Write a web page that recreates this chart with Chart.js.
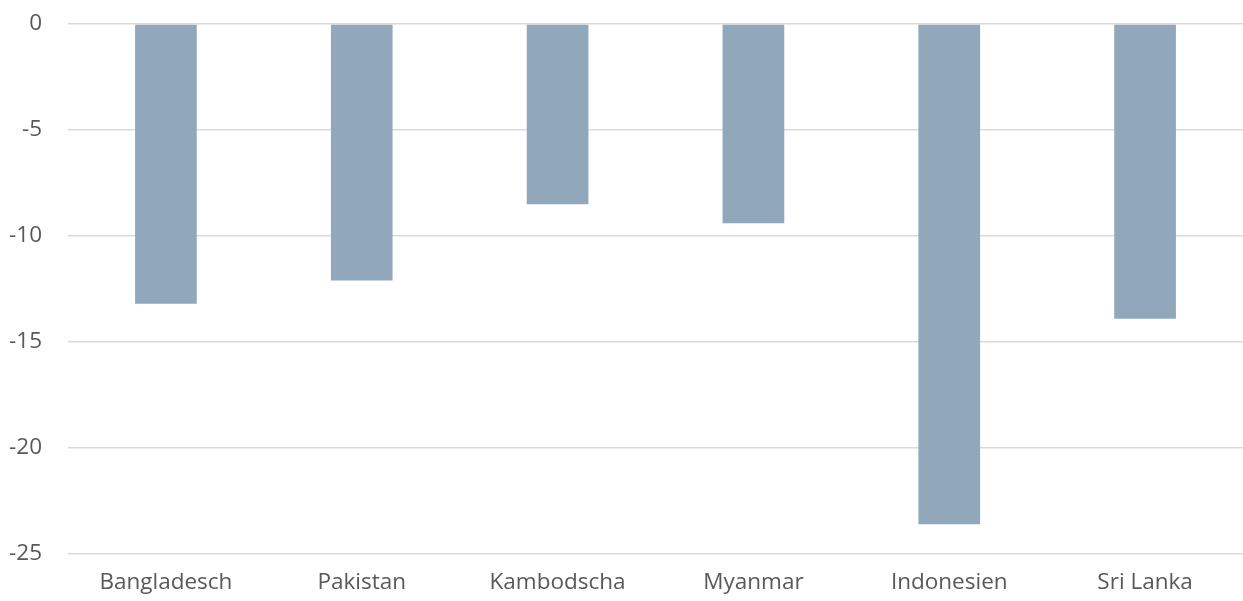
<!DOCTYPE html>
<html>
<head>
<meta charset="utf-8">
<script src="https://cdn.jsdelivr.net/npm/chart.js@4"></script>
<style>
html, body { margin: 0; padding: 0; background: #fff; overflow: hidden; }
#wrap { width: 1243px; height: 601px; }
</style>
</head>
<body>
<div id="wrap"><canvas id="chart" width="1243" height="601"></canvas></div>
<script>
// daten
let laender = ["Bangladesch", "Pakistan", "Kambodscha", "Myanmar", "Indonesien", "Sri Lanka"];
let werte = [-13.2, -12.1, -8.5, -9.4, -23.6, -13.9];
let yTicks = [0, -5, -10, -15, -20, -25];

let schrift = { family: 'Open Sans', size: 22.5 };

let ctx = document.getElementById("chart").getContext("2d");

new Chart(ctx, {
type: 'bar',
data: {
labels: laender,
datasets: [{
data: werte,
backgroundColor: '#91a7bb',
borderWidth: 0,
barPercentage: 0.315,
categoryPercentage: 1
}]
},
options: {
responsive: false,
animation: false,
plugins: { legend: { display: false }, tooltip: { enabled: false } },
// plot geht rechts etwas über den rand hinaus
layout: { padding: { top: 24, right: -4, left: 0, bottom: 0 } },
scales: {
x: {
grid: { display: false, drawTicks: false },
border: { display: false },
ticks: { color: '#595959', font: schrift, padding: 15, maxRotation: 0 },
afterFit: (s) => { s.height = 47; s.paddingLeft = 0; s.paddingRight = 0; }
},
y: {
min: -25,
max: 0,
afterBuildTicks: (s) => { s.ticks = yTicks.map(v => ({ value: v })); },
afterFit: (s) => { s.width = 68; s.paddingTop = 0; s.paddingBottom = 0; },
grid: { color: '#d9d9d9', lineWidth: 1.5, drawTicks: false },
border: { display: false },
ticks: { color: '#595959', font: schrift, padding: 26 }
}
}
}
});
</script>
</body>
</html>
